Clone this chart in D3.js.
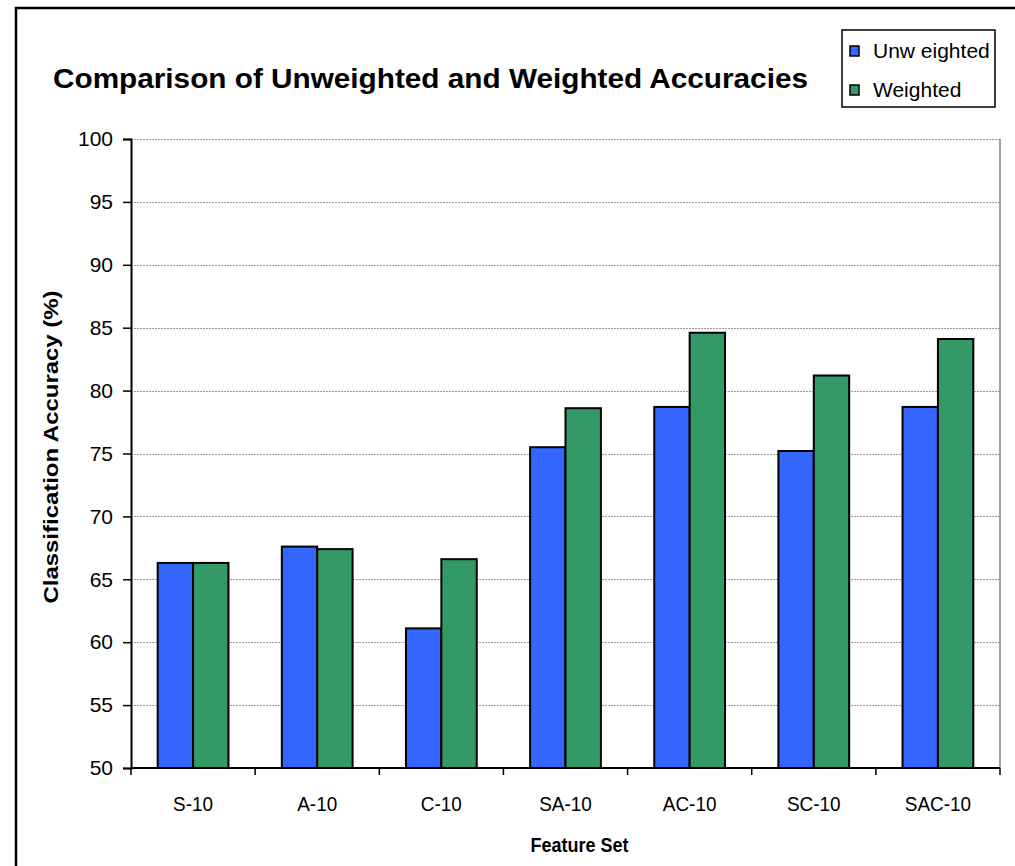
<!DOCTYPE html>
<html>
<head>
<meta charset="utf-8">
<script src="https://cdn.jsdelivr.net/npm/d3@7"></script>
<style>
  html, body { margin: 0; padding: 0; background: #fff; }
  svg text { font-family: Arial, "Liberation Sans", sans-serif; fill: #000; }
</style>
</head>
<body>
<svg id="chart" width="1015" height="866"></svg>
<script>
// Feature sets along the x axis
const categories = ["S-10", "A-10", "C-10", "SA-10", "AC-10", "SC-10", "SAC-10"];
// Classification accuracy (%) for each feature set
const unweighted = [66.3, 67.6, 61.1, 75.5, 78.7, 75.2, 78.7];
const weighted   = [66.3, 67.4, 66.6, 78.6, 84.6, 81.2, 84.1];
const seriesNames = ["Unw eighted", "Weighted"];
const seriesColors = ["#3366FF", "#339966"];
const yTicks = [50, 55, 60, 65, 70, 75, 80, 85, 90, 95, 100];

const svg = d3.select("#chart");

// Outer chart frame (top and left edges visible)
svg.append("path")
  .attr("d", "M16,866 L16,8 L1015,8")
  .attr("fill", "none")
  .attr("stroke", "#000")
  .attr("stroke-width", 2.5);

const plot = { left: 131, right: 1000, top: 139, bottom: 768 };

const x = d3.scaleBand()
  .domain(categories)
  .range([plot.left, plot.right])
  .paddingInner(0)
  .paddingOuter(0);

const x1 = d3.scaleBand()
  .domain([0, 1])
  .range([0, x.bandwidth()])
  .paddingOuter(0.754)
  .paddingInner(0);

const y = d3.scaleLinear()
  .domain([50, 100])
  .range([plot.bottom, plot.top]);

// Horizontal gridlines
svg.append("g")
  .selectAll("line")
  .data(yTicks.filter(d => d > 50))
  .join("line")
  .attr("x1", plot.left)
  .attr("x2", plot.right)
  .attr("y1", d => Math.round(y(d)) + 0.5)
  .attr("y2", d => Math.round(y(d)) + 0.5)
  .attr("stroke", "#999")
  .attr("stroke-width", 1)
  .attr("stroke-dasharray", "2,1");

// Right edge of plot area
svg.append("line")
  .attr("x1", plot.right).attr("x2", plot.right)
  .attr("y1", plot.top).attr("y2", plot.bottom)
  .attr("stroke", "#808080")
  .attr("stroke-width", 1.5);

// Bars
const series = [unweighted, weighted];
const groups = svg.append("g")
  .selectAll("g")
  .data(categories)
  .join("g")
  .attr("transform", d => `translate(${x(d)},0)`);

groups.selectAll("rect")
  .data((d, i) => series.map((s, k) => ({ k, v: s[i] })))
  .join("rect")
  .attr("x", d => x1(d.k))
  .attr("width", x1.bandwidth())
  .attr("y", d => y(d.v))
  .attr("height", d => y(50) - y(d.v))
  .attr("fill", d => seriesColors[d.k])
  .attr("stroke", "#000")
  .attr("stroke-width", 2);

// Y axis
const yAxis = d3.axisLeft(y)
  .tickValues(yTicks)
  .tickSize(8)
  .tickPadding(10)
  .tickFormat(d3.format("d"));
const gy = svg.append("g")
  .attr("transform", `translate(${plot.left},0)`)
  .call(yAxis);
gy.select(".domain").attr("stroke", "#000").attr("stroke-width", 2);
gy.selectAll(".tick line").attr("stroke", "#000").attr("stroke-width", 1.5);
gy.selectAll(".tick text")
  .attr("font-size", 21)
  .attr("fill", "#000")
  .attr("font-family", "Arial, 'Liberation Sans', sans-serif");

// X axis: ticks at band boundaries
const xAxisLine = svg.append("g");
xAxisLine.append("line")
  .attr("x1", plot.left).attr("x2", plot.right)
  .attr("y1", plot.bottom).attr("y2", plot.bottom)
  .attr("stroke", "#000").attr("stroke-width", 2);
const boundaries = categories.map(c => x(c)).concat([x(categories[categories.length - 1]) + x.bandwidth()]);
xAxisLine.selectAll("line.tk")
  .data(boundaries)
  .join("line")
  .attr("class", "tk")
  .attr("x1", d => d).attr("x2", d => d)
  .attr("y1", plot.bottom).attr("y2", plot.bottom + 7)
  .attr("stroke", "#000").attr("stroke-width", 1.5);
xAxisLine.selectAll("text")
  .data(categories)
  .join("text")
  .attr("x", d => x(d) + x.bandwidth() / 2)
  .attr("y", 811)
  .attr("text-anchor", "middle")
  .attr("font-size", 21)
  .text(d => d)
  .each(function () {
    // slightly condensed category labels
    const w = this.getComputedTextLength();
    d3.select(this).attr("textLength", w * 0.9).attr("lengthAdjust", "spacingAndGlyphs");
  });

// Axis titles
svg.append("text")
  .attr("x", (plot.left + plot.right) / 2 + 14)
  .attr("y", 852)
  .attr("text-anchor", "middle")
  .attr("font-size", 20)
  .attr("font-weight", "bold")
  .attr("textLength", 98)
  .attr("lengthAdjust", "spacingAndGlyphs")
  .text("Feature Set");

svg.append("text")
  .attr("transform", `translate(58,447) rotate(-90)`)
  .attr("text-anchor", "middle")
  .attr("font-size", 20)
  .attr("font-weight", "bold")
  .attr("textLength", 313)
  .attr("lengthAdjust", "spacingAndGlyphs")
  .text("Classification Accuracy (%)");

// Chart title
svg.append("text")
  .attr("x", 53)
  .attr("y", 88)
  .attr("font-size", 27)
  .attr("font-weight", "bold")
  .attr("textLength", 755)
  .attr("lengthAdjust", "spacingAndGlyphs")
  .text("Comparison of Unweighted and Weighted Accuracies");

// Legend
const legend = svg.append("g").attr("transform", "translate(842,30)");
legend.append("rect")
  .attr("width", 153).attr("height", 77)
  .attr("fill", "#fff").attr("stroke", "#000").attr("stroke-width", 1.5);
const items = legend.selectAll("g")
  .data(seriesNames)
  .join("g")
  .attr("transform", (d, i) => `translate(8,${16 + i * 39})`);
items.append("rect")
  .attr("width", 9).attr("height", 10)
  .attr("fill", (d, i) => seriesColors[i])
  .attr("stroke", "#000").attr("stroke-width", 1.5);
items.append("text")
  .attr("x", 23).attr("y", 12)
  .attr("font-size", 21)
  .text(d => d);
</script>
</body>
</html>
